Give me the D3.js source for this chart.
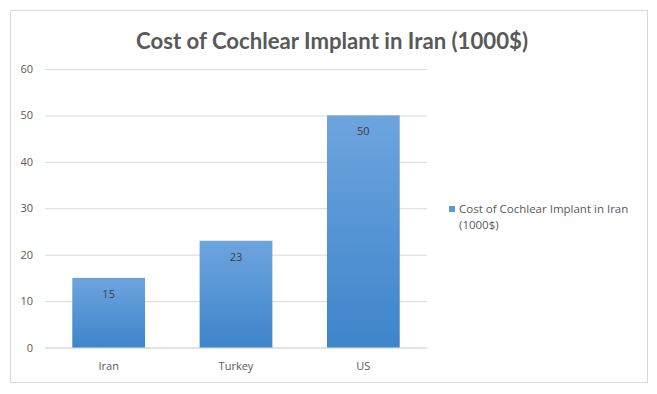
<!DOCTYPE html>
<html lang="en">
<head>
<meta charset="utf-8">
<title>Cost of Cochlear Implant in Iran</title>
<script src="https://d3js.org/d3.v7.min.js"></script>
<style>
  body { margin: 0; background: #fff; }
  svg { display: block; }
  .tick text, .label, .legend text { font-family: "Open Sans", sans-serif; font-size: 11px; fill: #595959; }
  .legend text { font-size: 11.5px; }
  .title { font-family: Lato, sans-serif; font-size: 22px; font-weight: 700; fill: #595959; }
</style>
</head>
<body>
<svg id="vis" width="657" height="394"></svg>
<script>
  // data
  var countries = ["Iran", "Turkey", "US"];
  var costs = [15, 23, 50];
  var yTicks = [0, 10, 20, 30, 40, 50, 60];
  var seriesName = "Cost of Cochlear Implant in Iran (1000$)";

  var svg = d3.select("#vis");

  // chart border
  svg.append("rect")
      .attr("x", 10.5).attr("y", 10.5)
      .attr("width", 637).attr("height", 372)
      .attr("fill", "#fff").attr("stroke", "#d9d9d9");

  svg.append("text")
      .attr("class", "title")
      .attr("x", 332).attr("y", 49)
      .attr("text-anchor", "middle")
      .attr("textLength", 392)
      .attr("lengthAdjust", "spacingAndGlyphs")
      .text(seriesName);

  var x = d3.scaleBand().domain(countries).range([45, 427]);
  var y = d3.scaleLinear().domain([0, 60]).range([347.5, 69]);
  var barW = x.bandwidth() / 1.75;

  var defs = svg.append("defs");
  var grad = defs.append("linearGradient")
      .attr("id", "barFill").attr("x1", 0).attr("y1", 0).attr("x2", 0).attr("y2", 1);
  grad.append("stop").attr("offset", "0%").attr("stop-color", "#6da4de");
  grad.append("stop").attr("offset", "100%").attr("stop-color", "#3e85ca");

  // gridlines + y labels
  var yAxis = svg.append("g")
      .attr("transform", "translate(45,0)")
      .call(d3.axisLeft(y).tickValues(yTicks).tickSize(-382).tickPadding(10));
  yAxis.select(".domain").remove();
  yAxis.selectAll(".tick line").attr("stroke", "#d9d9d9");
  yAxis.selectAll(".tick text").attr("x", -12);

  var xAxis = svg.append("g")
      .attr("transform", "translate(0," + y(0) + ")")
      .call(d3.axisBottom(x).tickSize(0).tickPadding(15));
  xAxis.select(".domain").attr("stroke", "#d9d9d9");

  svg.selectAll(".bar")
    .data(costs)
    .enter().append("rect")
      .attr("class", "bar")
      .attr("x", function(d, i) { return x(countries[i]) + (x.bandwidth() - barW) / 2; })
      .attr("y", function(d) { return y(d); })
      .attr("width", barW)
      .attr("height", function(d) { return y(0) - y(d); })
      .attr("fill", "url(#barFill)");

  svg.selectAll(".label")
    .data(costs)
    .enter().append("text")
      .attr("class", "label")
      .attr("x", function(d, i) { return x(countries[i]) + x.bandwidth() / 2; })
      .attr("y", function(d) { return y(d) + 20; })
      .attr("text-anchor", "middle")
      .style("fill", "#404040")
      .text(function(d) { return d; });

  // legend
  var legend = svg.append("g").attr("class", "legend");
  legend.append("rect")
      .attr("x", 449).attr("y", 206)
      .attr("width", 6).attr("height", 6)
      .attr("fill", "#5b9bd5");
  legend.append("text").attr("x", 459).attr("y", 213).text("Cost of Cochlear Implant in Iran");
  legend.append("text").attr("x", 459).attr("y", 229).text("(1000$)");
</script>
</body>
</html>
